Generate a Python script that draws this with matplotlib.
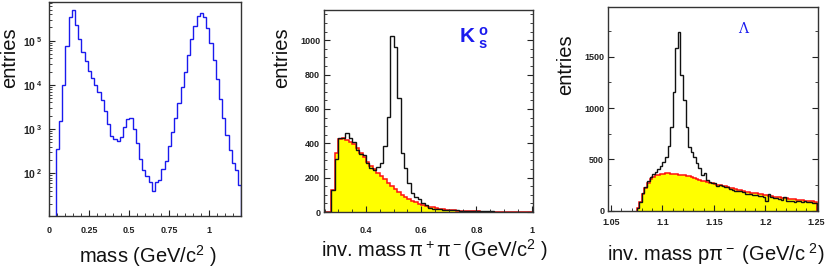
import matplotlib
matplotlib.use('Agg')
import matplotlib.pyplot as plt
import numpy as np
from matplotlib.ticker import MultipleLocator, FixedLocator, FixedFormatter, LogLocator, NullFormatter

plt.rcParams['font.family'] = ['Liberation Sans', 'DejaVu Sans']
plt.rcParams['mathtext.fontset'] = 'custom'
plt.rcParams['mathtext.rm'] = 'Liberation Sans'
plt.rcParams['mathtext.it'] = 'Liberation Sans:italic'
plt.rcParams['mathtext.bf'] = 'Liberation Sans:bold'

# ---------------- data ----------------
# panel 1: mass spectrum (log scale), bins of 0.02 GeV starting at 0.04
mass_lo, mass_w = 0.04, 0.02
mass_counts = [347, 1500, 1.0e4, 7.6e4, 3.4e5, 4.9e5, 2.3e5, 1.07e5, 5.6e4, 3.4e4,
               2.1e4, 1.44e4, 9.8e3, 6.9e3, 4.6e3, 2.5e3, 1.3e3, 700, 605, 537,
               650, 1.1e3, 1.7e3, 1.8e3, 1.0e3, 475, 207, 118, 88, 65,
               40, 63, 71, 127, 193, 415, 870, 1780, 3900, 8800,
               1.95e4, 4.7e4, 1.1e5, 2.2e5, 3.6e5, 4.2e5, 3.5e5, 1.96e5, 8.9e4, 3.6e4,
               1.35e4, 4.9e3, 1.8e3, 720, 342, 174, 121, 53]
mass_xticks = [0, 0.25, 0.5, 0.75, 1.0]
mass_xticklabels = ['0', '0.25', '0.5', '0.75', '1']
mass_ytick_exp = [2, 3, 4, 5]

# panel 2: K0s, bins of 0.0125 GeV starting at 0.25
k0_lo, k0_w = 0.25, 0.0125
k0_signal = [0, 0, 128, 310, 429, 433, 460, 433, 410, 361,
             338, 330, 283, 254, 245, 260, 287, 386, 551, 1027,
             963, 666, 345, 258, 169, 112, 89, 77, 51, 41,
             23, 20, 18, 16, 14, 12, 11, 10, 9, 8,
             7, 6, 6, 5, 5, 4, 4, 3, 3, 2,
             2, 2, 1, 1, 1, 0, 0, 0, 0, 0]
k0_background = [0, 0, 128, 342, 425, 431, 419, 410, 394, 371,
                 342, 318, 293, 270, 249, 229, 210, 190, 171, 153,
                 136, 118, 101, 87, 76, 66, 56, 48, 42, 36,
                 31, 27, 23, 20, 17, 14, 12, 10, 8, 7,
                 6, 5, 4, 3, 3, 2, 2, 1, 1, 1,
                 0, 0, 0, 0, 0, 0, 0, 0, 0, 0]
k0_xticks = [0.4, 0.6, 0.8, 1.0]
k0_xticklabels = ['0.4', '0.6', '0.8', '1']
k0_yticks = [0, 200, 400, 600, 800, 1000]

# panel 3: Lambda, bins of 0.0025 GeV starting at 1.075
lam_lo, lam_w = 1.075, 0.0025
lam_signal = [30, 88, 169, 234, 289, 325, 357, 380, 406, 435,
              477, 526, 633, 812, 1159, 1582, 1737, 1320, 1078, 818,
              623, 575, 526, 461, 413, 348, 370, 299, 283, 273,
              267, 244, 250, 241, 234, 228, 214, 202, 195, 192,
              195, 185, 160, 163, 160, 153, 150, 143, 143, 136,
              94, 163, 130, 121, 127, 114, 104, 130, 97, 94,
              97, 88, 94, 94, 85, 91, 85, 85, 78, 78]
lam_background = [25, 85, 160, 225, 272, 305, 328, 343, 352, 358,
                  362, 364, 363, 361, 358, 355, 352, 348, 344, 340,
                  334, 328, 317, 306, 300, 293, 287, 280, 273, 267,
                  261, 254, 248, 242, 236, 230, 224, 218, 212, 206,
                  200, 193, 186, 181, 176, 172, 168, 164, 161, 157,
                  152, 147, 142, 138, 134, 130, 127, 123, 120, 117,
                  114, 111, 108, 105, 102, 99, 96, 93, 91, 88]
lam_xticks = [1.05, 1.1, 1.15, 1.2, 1.25]
lam_xticklabels = ['1.05', '1.1', '1.15', '1.2', '1.25']
lam_yticks = [0, 500, 1000, 1500]


def edges(lo, w, n):
    return lo + w * np.arange(n + 1)


W, H = 830, 270
fig = plt.figure(figsize=(W / 100, H / 100), dpi=100)


def px_axes(l, r, t, b):
    return fig.add_axes([l / W, 1 - b / H, (r - l) / W, (b - t) / H])


def style(ax, right=True):
    for s in ax.spines.values():
        s.set_color('#333333')
        s.set_linewidth(1.0)
    ax.tick_params(which='both', direction='in', top=False, right=right,
                   colors='#222222', labelsize=6.5)
    ax.tick_params(which='major', length=4, width=0.8)
    ax.tick_params(which='minor', length=2, width=0.6)


# ---------------- panel 1 ----------------
ax1 = px_axes(49.3, 241.3, 2, 216)
e1 = edges(mass_lo, mass_w, len(mass_counts))
ax1.stairs(mass_counts, e1, baseline=1e-3, color='#1a1aee', lw=1.0)
ax1.set_yscale('log')
ax1.set_xlim(0, 1.2)
ax1.set_ylim(10.8, 7.5e5)
ax1.xaxis.set_major_locator(FixedLocator(mass_xticks))
ax1.xaxis.set_major_formatter(FixedFormatter(mass_xticklabels))
ax1.xaxis.set_minor_locator(MultipleLocator(0.05))
ax1.yaxis.set_major_locator(FixedLocator([10.0 ** e for e in mass_ytick_exp]))
ax1.yaxis.set_major_formatter(FixedFormatter([r'$\mathbf{10}^{\ \mathbf{%d}}$' % e for e in mass_ytick_exp]))
ax1.yaxis.set_minor_locator(LogLocator(base=10, subs=np.arange(2, 10)))
ax1.yaxis.set_minor_formatter(NullFormatter())
style(ax1, right=False)
ax1.tick_params(axis='x', pad=7)
ax1.tick_params(axis='y', pad=5, labelsize=7.5)

# ---------------- panel 2 ----------------
ax2 = px_axes(324.3, 533.3, 10, 212)
e2 = edges(k0_lo, k0_w, len(k0_signal))
ax2.stairs(k0_background, e2, fill=True, color='#ffff00', lw=0)
ax2.stairs(k0_background, e2, color='#ff1010', lw=1.1)
ax2.stairs(k0_signal, e2, color='#111111', lw=1.0)
ax2.set_xlim(0.249, 1.006)
ax2.set_ylim(0, 1176)
ax2.xaxis.set_major_locator(FixedLocator(k0_xticks))
ax2.xaxis.set_major_formatter(FixedFormatter(k0_xticklabels))
ax2.xaxis.set_minor_locator(MultipleLocator(0.05))
ax2.yaxis.set_major_locator(FixedLocator(k0_yticks))
ax2.yaxis.set_minor_locator(MultipleLocator(50))
style(ax2)
ax2.tick_params(axis='x', pad=10)
ax2.tick_params(axis='y', pad=3)
fig.text(459 / W, 1 - 38 / H, r'$\mathbf{K}^{\ \mathbf{o}}_{\ \mathbf{s}}$',
         color='#1a1aee', fontsize=15, ha='left', va='center')

# ---------------- panel 3 ----------------
ax3 = px_axes(608.3, 817.7, 6.7, 210.7)
e3 = edges(lam_lo, lam_w, len(lam_signal))
ax3.stairs(lam_background, e3, fill=True, color='#ffff00', lw=0)
ax3.stairs(lam_background, e3, color='#ff1010', lw=1.1)
ax3.stairs(lam_signal, e3, color='#111111', lw=1.0)
ax3.set_xlim(1.0474, 1.251)
ax3.set_ylim(0, 1987)
ax3.xaxis.set_major_locator(FixedLocator(lam_xticks))
ax3.xaxis.set_major_formatter(FixedFormatter(lam_xticklabels))
ax3.xaxis.set_minor_locator(MultipleLocator(0.01))
ax3.yaxis.set_major_locator(FixedLocator(lam_yticks))
ax3.yaxis.set_minor_locator(MultipleLocator(250))
style(ax3)
ax3.tick_params(axis='x', pad=5)
ax3.tick_params(axis='y', pad=3)
fig.text(743 / W, 1 - 29 / H, 'Λ', family='DejaVu Serif', color='#1a1aee',
         fontsize=10, ha='center', va='center')

for ax in (ax1, ax2, ax3):
    for lab in ax.get_xticklabels() + ax.get_yticklabels():
        lab.set_fontweight('bold')

# ---------------- axis titles ----------------
lab = dict(fontsize=14.5, color='#111111')
fig.text(10 / W, 1 - 57.5 / H, 'entries', rotation=90, ha='center', va='center', **lab)
fig.text(281.5 / W, 1 - 58 / H, 'entries', rotation=90, ha='center', va='center', **lab)
fig.text(565.5 / W, 1 - 64.5 / H, 'entries', rotation=90, ha='center', va='center', **lab)
fig.text(148 / W, 1 - 256 / H, r'mass (GeV/c$^2$ )', ha='center', va='center', **lab)
fig.text(435 / W, 1 - 250 / H, r'inv. mass$\,\mathrm{π}^+\mathrm{π}^-$(GeV/c$^2$ )',
         ha='center', va='center', **lab)
fig.text(716 / W, 1 - 254 / H, r'inv. mass p$\mathrm{π}^-$ (GeV/c$^{\ 2}$)',
         ha='center', va='center', **lab)

fig.savefig('out.png', dpi=100)
